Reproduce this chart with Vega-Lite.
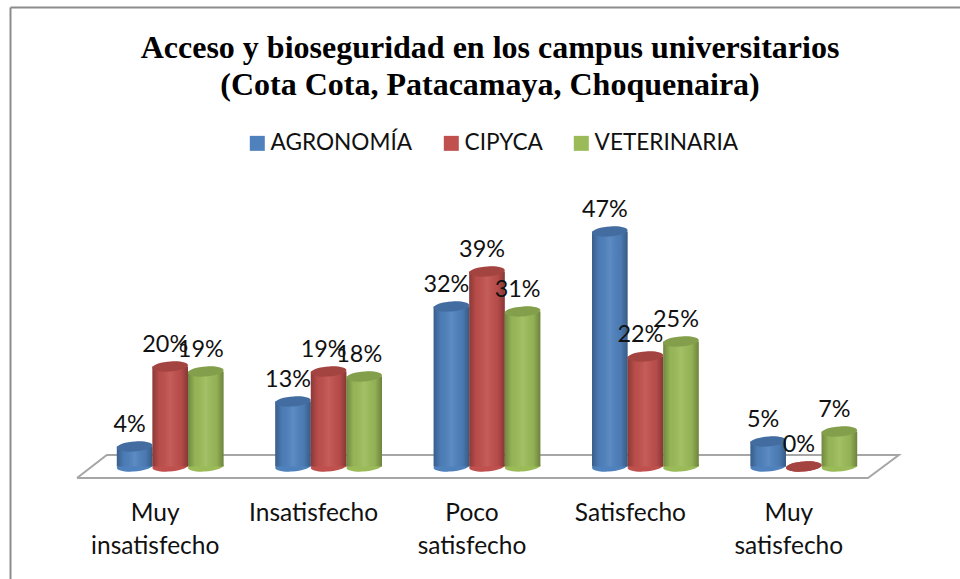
{
"$schema":"https://vega.github.io/schema/vega-lite/v6.json",
"autosize":{"type":"none"},
"padding":{"left":10,"top":7,"right":0,"bottom":0},
"width":950,"height":572,
"background":"white",
"config":{"view":{"stroke":null},"font":"Lato"},
"title":{"text":["Acceso y bioseguridad en los campus universitarios","(Cota Cota, Patacamaya, Choquenaira)"],"font":"Liberation Serif","fontSize":32,"fontWeight":"bold","color":"black","anchor":"middle","dx":5,"dy":95,"lineHeight":37,"offset":0},
"datasets":{
"barras":[
{"categoria":"Muy insatisfecho","carrera":"AGRONOMÍA","valor":0.04},
{"categoria":"Muy insatisfecho","carrera":"CIPYCA","valor":0.20},
{"categoria":"Muy insatisfecho","carrera":"VETERINARIA","valor":0.19},
{"categoria":"Insatisfecho","carrera":"AGRONOMÍA","valor":0.13},
{"categoria":"Insatisfecho","carrera":"CIPYCA","valor":0.19},
{"categoria":"Insatisfecho","carrera":"VETERINARIA","valor":0.18},
{"categoria":"Poco satisfecho","carrera":"AGRONOMÍA","valor":0.32},
{"categoria":"Poco satisfecho","carrera":"CIPYCA","valor":0.39},
{"categoria":"Poco satisfecho","carrera":"VETERINARIA","valor":0.31},
{"categoria":"Satisfecho","carrera":"AGRONOMÍA","valor":0.47},
{"categoria":"Satisfecho","carrera":"CIPYCA","valor":0.22},
{"categoria":"Satisfecho","carrera":"VETERINARIA","valor":0.25},
{"categoria":"Muy satisfecho","carrera":"AGRONOMÍA","valor":0.05},
{"categoria":"Muy satisfecho","carrera":"CIPYCA","valor":0},
{"categoria":"Muy satisfecho","carrera":"VETERINARIA","valor":0.07}
],
"piso":[
{"u":-0.088,"valor":-0.023,"o":1},
{"u":4.905,"valor":-0.023,"o":2},
{"u":5.1,"valor":0.023,"o":3},
{"u":0.1,"valor":0.023,"o":4},
{"u":-0.088,"valor":-0.023,"o":5}
]},
"encoding":{"y":{"field":"valor","type":"quantitative","scale":{"domain":[-0.225,0.919],"nice":false,"zero":false},"axis":{"title":null,"labels":false,"ticks":false,"grid":false,"domain":true,"domainColor":"#8c8c8c","domainWidth":2}}},
"resolve":{"scale":{"x":"independent"},"axis":{"x":"independent"}},
"layer":[
{"data":{"name":"piso"},
 "mark":{"type":"line","color":"#a6a6a6","strokeWidth":2,"strokeJoin":"miter"},
 "encoding":{"x":{"field":"u","type":"quantitative","scale":{"domain":[-0.511,5.486],"nice":false,"zero":false},"axis":{"orient":"top","title":null,"labels":false,"ticks":false,"grid":false,"domain":true,"domainColor":"#8c8c8c","domainWidth":2}},"order":{"field":"o"}}},
{"data":{"name":"barras"},
 "encoding":{
  "x":{"field":"categoria","type":"nominal","sort":null,"scale":{"range":[81,873],"paddingInner":0.326,"paddingOuter":0.163},"axis":{"orient":"bottom","offset":-85,"title":null,"ticks":false,"domain":false,"grid":false,"labelAngle":0,"labelFont":"Lato","labelFontSize":24.5,"labelColor":"#111111","labelOffset":-15,"labelPadding":7,"labelLineHeight":33,"labelBaseline":"top","labelExpr":"split(datum.label,' ')"}},
  "xOffset":{"field":"carrera","type":"nominal","sort":null},
  "color":{"field":"carrera","type":"nominal","scale":{"domain":["AGRONOMÍA","CIPYCA","VETERINARIA"],"range":["#4f81bd","#c0504d","#9bbb59"]},"legend":{"orient":"none","legendX":236,"legendY":125,"direction":"horizontal","title":null,"symbolType":"square","symbolSize":225,"symbolStrokeWidth":0,"labelFont":"Lato","labelFontSize":22.6,"labelColor":"#111111","columnPadding":27,"labelOffset":2}}
 },
 "layer":[
 {"mark":{"type":"point","filled":true,"opacity":1,"shape":"M-1,0.05A1,0.28 -4 1,0 1,-0.05A1,0.28 -4 1,0 -1,0.05Z","size":1260},
  "encoding":{"y":{"datum":0}}},
 {"transform":[{"filter":"datum.valor > 0"}],
  "mark":{"type":"bar"}},
 {"transform":[{"filter":"datum.valor > 0"}],
  "mark":{"type":"bar","fill":{"gradient":"linear","x1":0,"x2":1,"y1":0,"y2":0,"stops":[{"offset":0,"color":"rgba(0,0,0,0.28)"},{"offset":0.2,"color":"rgba(0,0,0,0.04)"},{"offset":0.5,"color":"rgba(255,255,255,0.08)"},{"offset":0.8,"color":"rgba(0,0,0,0.05)"},{"offset":1,"color":"rgba(0,0,0,0.3)"}]}},
  "encoding":{"color":{"value":null}}},
 {"mark":{"type":"point","filled":true,"opacity":1,"shape":"M-1,0.05A1,0.28 -4 1,0 1,-0.05A1,0.28 -4 1,0 -1,0.05Z","size":1260}},
 {"mark":{"type":"point","filled":true,"opacity":0.15,"shape":"M-1,0.05A1,0.28 -4 1,0 1,-0.05A1,0.28 -4 1,0 -1,0.05Z","size":1260,"fill":"black"},
  "encoding":{"color":{"value":"black"}}},
 {"mark":{"type":"text","font":"Lato","fontSize":23.4,"dx":-5,"dy":-22,"baseline":"middle"},
  "encoding":{"text":{"field":"valor","type":"quantitative","format":".0%"},"color":{"value":"#111111"}}}
 ]
}
]
}
